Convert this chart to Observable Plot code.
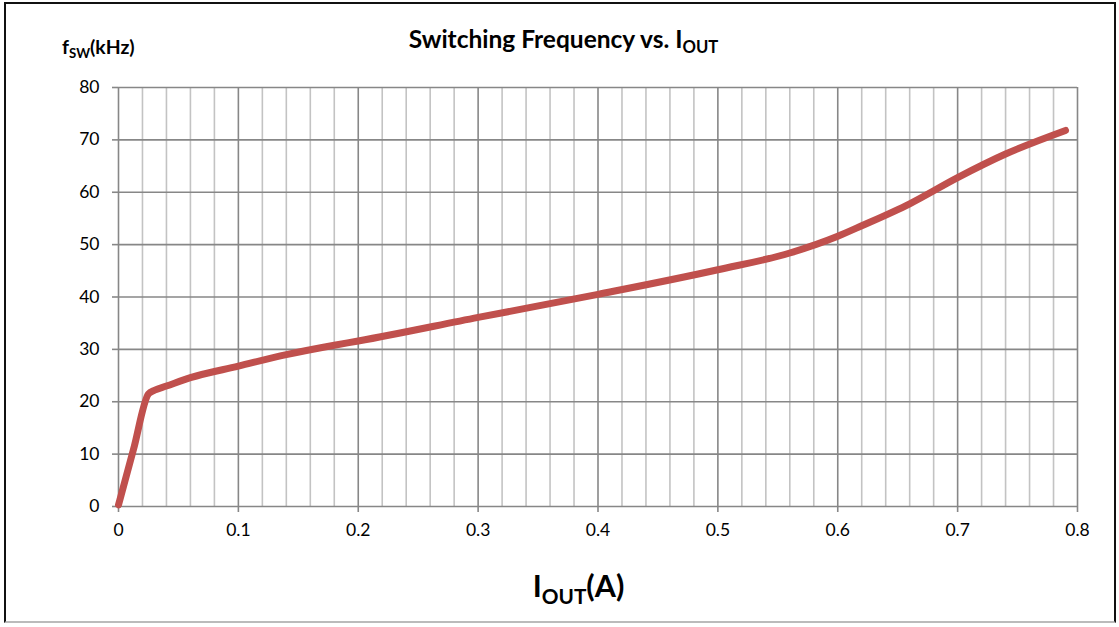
<!DOCTYPE html>
<html>
<head>
<meta charset="utf-8">
<script src="https://cdn.jsdelivr.net/npm/d3@7"></script>
<script src="https://cdn.jsdelivr.net/npm/@observablehq/plot@0.6"></script>
<style>
  html, body { margin:0; padding:0; background:#fff; }
  body { width:1119px; height:627px; position:relative; overflow:hidden; font-family: Lato, "Open Sans", sans-serif; }
  #frame { position:absolute; left:4px; top:2px; width:1112px; height:621px; border:2px solid #111; border-bottom-color:#bbb; box-sizing:border-box; pointer-events:none; }
  #chart { position:absolute; left:0; top:0; }
  .lbl { position:absolute; font-weight:bold; color:#000; white-space:nowrap; }
  .sub { font-size:0.68em; vertical-align:-0.32em; }
  #title { left:0; width:1127px; text-align:center; top:24px; font-size:24.5px; }
  #ylab { left:62px; top:35px; font-size:19.4px; }
  #xlab { left:0; width:1157px; text-align:center; top:567px; font-size:30.5px; }
</style>
</head>
<body>
<div id="chart"></div>
<div id="frame"></div>
<div class="lbl" id="title">Switching Frequency vs. I<span class="sub">OUT</span></div>
<div class="lbl" id="ylab">f<span class="sub">SW</span>(kHz)</div>
<div class="lbl" id="xlab">I<span class="sub">OUT</span>(A)</div>
<script>
const iout = [0, 0.0125, 0.025, 0.03, 0.04, 0.06, 0.1, 0.14, 0.18, 0.2, 0.3, 0.4, 0.5, 0.56, 0.6, 0.62, 0.66, 0.7, 0.74, 0.79];
const fsw  = [0.3, 10.9, 21.5, 22.2, 23.0, 24.6, 26.8, 29.0, 30.8, 31.6, 36.1, 40.5, 45.2, 48.4, 51.6, 53.6, 57.8, 62.8, 67.3, 71.8];
const xMajorTicks = [0, 0.1, 0.2, 0.3, 0.4, 0.5, 0.6, 0.7, 0.8];
const xMinorTicks = [0.02, 0.04, 0.06, 0.08, 0.12, 0.14, 0.16, 0.18, 0.22, 0.24, 0.26, 0.28, 0.32, 0.34, 0.36, 0.38,
                     0.42, 0.44, 0.46, 0.48, 0.52, 0.54, 0.56, 0.58, 0.62, 0.64, 0.66, 0.68, 0.72, 0.74, 0.76, 0.78];
const yTicks = [0, 10, 20, 30, 40, 50, 60, 70, 80];

const data = iout.map((x, i) => ({x, y: fsw[i]}));

const chart = Plot.plot({
  width: 1119,
  height: 627,
  marginLeft: 118,
  marginRight: 42,
  marginTop: 87,
  marginBottom: 121,
  style: { fontFamily: "Lato, 'Open Sans', sans-serif", fontSize: "17.5px", color: "#000", background: "transparent" },
  x: { domain: [0, 0.8] },
  y: { domain: [0, 80] },
  marks: [
    Plot.ruleX(xMinorTicks, { stroke: "#c3c3c3", strokeWidth: 1.6 }),
    Plot.ruleY(yTicks, { stroke: "#878787", strokeWidth: 1.6 }),
    Plot.ruleX(xMajorTicks, { stroke: "#878787", strokeWidth: 1.6 }),
    Plot.axisX({ ticks: xMajorTicks, tickFormat: d => String(d), tickSize: 6, tickPadding: 11, stroke: "#878787", strokeWidth: 1.6, fill: "#000", label: null }),
    Plot.axisY({ ticks: yTicks, tickFormat: d => String(d), tickSize: 6, tickPadding: 13, stroke: "#878787", strokeWidth: 1.6, fill: "#000", label: null }),
    Plot.line(data, { x: "x", y: "y", stroke: "#c0504d", strokeWidth: 7, curve: "monotone-x", strokeLinecap: "round", strokeLinejoin: "round" })
  ]
});
document.getElementById("chart").appendChild(chart);
</script>
</body>
</html>
